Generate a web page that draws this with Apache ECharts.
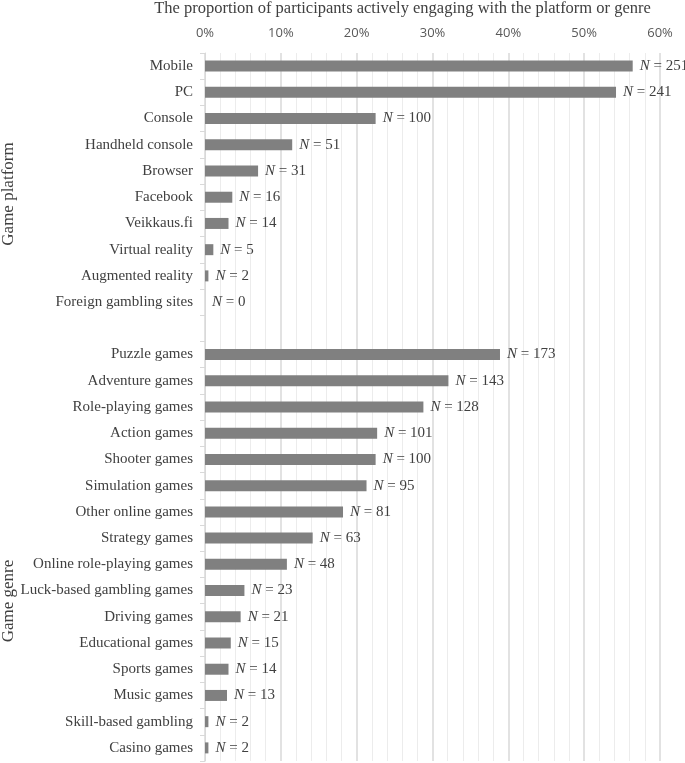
<!DOCTYPE html>
<html><head><meta charset="utf-8">
<script src="https://cdn.jsdelivr.net/npm/echarts@6/dist/echarts.min.js"></script>
<style>html,body{margin:0;padding:0;background:#fff}#c{width:685px;height:763px}</style>
</head><body><div id="c"></div>
<script>
const categories = ["Mobile","PC","Console","Handheld console","Browser","Facebook","Veikkaus.fi","Virtual reality","Augmented reality","Foreign gambling sites","",
"Puzzle games","Adventure games","Role-playing games","Action games","Shooter games","Simulation games","Other online games","Strategy games","Online role-playing games","Luck-based gambling games","Driving games","Educational games","Sports games","Music games","Skill-based gambling","Casino games"];
const percents = [56.4,54.2,22.5,11.5,7.0,3.6,3.1,1.1,0.45,0,null,
38.9,32.1,28.8,22.7,22.5,21.3,18.2,14.2,10.8,5.2,4.7,3.4,3.1,2.9,0.45,0.45];
const counts = [251,241,100,51,31,16,14,5,2,0,null,173,143,128,101,100,95,81,63,48,23,21,15,14,13,2,2];
const xTicks = [0,10,20,30,40,50,60];
const axisTitle = "The proportion of participants actively engaging with the platform or genre";
const groupNames = ["Game platform","Game genre"];

const chart = echarts.init(document.getElementById('c'), null, {renderer:'canvas'});
const serif = '"Liberation Serif","Times New Roman",serif';
chart.setOption({
  animation:false,
  grid:{left:205,right:25,top:53,bottom:2,outerBoundsMode:'none',containLabel:false},
  xAxis:{type:'value',position:'top',min:xTicks[0],max:xTicks[xTicks.length-1],interval:10,
    name:axisTitle,nameLocation:'middle',nameGap:36,
    nameTextStyle:{fontFamily:serif,fontSize:16.5,color:'#404040',padding:[0,60,0,0]},
    axisLabel:{formatter:'{value}%',fontFamily:'"Liberation Sans Narrow","Open Sans",sans-serif',fontSize:13,color:'#595959',margin:13},
    axisLine:{show:false},axisTick:{show:false},
    splitLine:{show:true,lineStyle:{color:'#d9d9d9',width:1.5}},
    minorTick:{show:false,splitNumber:5},
    minorSplitLine:{show:true,lineStyle:{color:'#ececec',width:1}}},
  yAxis:{type:'category',inverse:true,data:categories,
    axisLine:{show:true,lineStyle:{color:'#d9d9d9'}},
    axisTick:{show:true,length:5,lineStyle:{color:'#d9d9d9'}},
    axisLabel:{fontFamily:serif,fontSize:15,color:'#404040',margin:12}},
  series:[{type:'bar',data:percents,barWidth:11,itemStyle:{color:'#808080'},
    label:{show:true,position:'right',distance:7,
      formatter:p=>counts[p.dataIndex]==null?'':'{i|N} = '+counts[p.dataIndex],
      fontFamily:serif,fontSize:15,color:'#404040',
      rich:{i:{fontFamily:serif,fontSize:15,fontStyle:'italic',color:'#404040'}}}}],
  graphic:[
    {type:'text',x:0,y:194,rotation:Math.PI/2,style:{text:groupNames[0],font:'17px '+serif,fill:'#404040',textAlign:'center',textVerticalAlign:'top'}},
    {type:'text',x:0,y:601,rotation:Math.PI/2,style:{text:groupNames[1],font:'17px '+serif,fill:'#404040',textAlign:'center',textVerticalAlign:'top'}}
  ]
});
</script></body></html>
